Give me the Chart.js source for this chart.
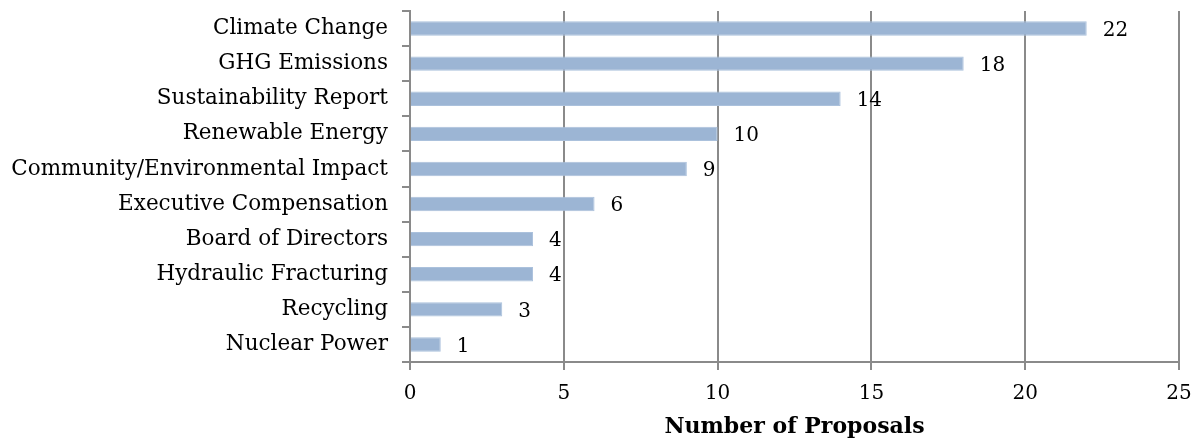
<!DOCTYPE html>
<html>
<head>
<meta charset="utf-8">
<script src="https://cdn.jsdelivr.net/npm/chart.js@4/dist/chart.umd.min.js"></script>
<style>
  html, body { margin: 0; padding: 0; background: #fff; }
  #wrap { width: 1199px; height: 440px; }
</style>
</head>
<body>
<div id="wrap"><canvas id="chart" width="1199" height="440"></canvas></div>
<script>
const categories = [
  'Climate Change',
  'GHG Emissions',
  'Sustainability Report',
  'Renewable Energy',
  'Community/Environmental Impact',
  'Executive Compensation',
  'Board of Directors',
  'Hydraulic Fracturing',
  'Recycling',
  'Nuclear Power'
];
const proposals = [22, 18, 14, 10, 9, 6, 4, 4, 3, 1];
const axisMin = 0;
const axisMax = 25;
const axisStep = 5;

const FONT = 'Georgia, "DejaVu Serif", serif';
const GRID = '#8a8a8a';

// draws the number just right of each bar
const valueLabels = {
  id: 'valueLabels',
  afterDatasetsDraw(chart) {
    const ctx = chart.ctx;
    const meta = chart.getDatasetMeta(0);
    ctx.save();
    ctx.font = '20px ' + FONT;
    ctx.fillStyle = '#000';
    ctx.textAlign = 'left';
    ctx.textBaseline = 'middle';
    meta.data.forEach((bar, i) => {
      ctx.fillText(String(proposals[i]), bar.x + 16, bar.y + 2);
    });
    ctx.restore();
  }
};

new Chart(document.getElementById('chart').getContext('2d'), {
  type: 'bar',
  data: {
    labels: categories,
    datasets: [{
      data: proposals,
      backgroundColor: '#9cb5d4',
      borderColor: '#abc1dc',
      borderWidth: 1,
      barPercentage: 0.82,
      categoryPercentage: 0.5
    }]
  },
  options: {
    indexAxis: 'y',
    responsive: false,
    animation: false,
    layout: { padding: { top: 11, right: 20, left: 0, bottom: 0 } },
    plugins: {
      legend: { display: false },
      tooltip: { enabled: false }
    },
    scales: {
      x: {
        min: axisMin,
        max: axisMax,
        ticks: {
          stepSize: axisStep,
          color: '#000',
          font: { family: FONT, size: 20 },
          padding: 12
        },
        grid: {
          color: GRID,
          lineWidth: 2,
          tickLength: 8,
          drawTicks: true
        },
        border: { color: GRID, width: 2 },
        title: {
          display: true,
          text: 'Number of Proposals',
          color: '#000',
          font: { family: FONT, size: 22, weight: 'bold' },
          padding: { top: 5, bottom: 0 }
        },
        afterFit(scale) {
          scale.height = 78;
          scale.paddingLeft = 0;
          scale.paddingRight = 0;
        }
      },
      y: {
        ticks: {
          color: '#000',
          font: { family: FONT, size: 21.5 },
          padding: 14,
          autoSkip: false
        },
        grid: {
          offset: true,
          drawOnChartArea: false,
          color: GRID,
          lineWidth: 2,
          tickLength: 8
        },
        border: { color: GRID, width: 2 },
        afterFit(scale) {
          scale.width = 410;
          scale.paddingTop = 0;
          scale.paddingBottom = 0;
        }
      }
    }
  },
  plugins: [valueLabels]
});
</script>
</body>
</html>
